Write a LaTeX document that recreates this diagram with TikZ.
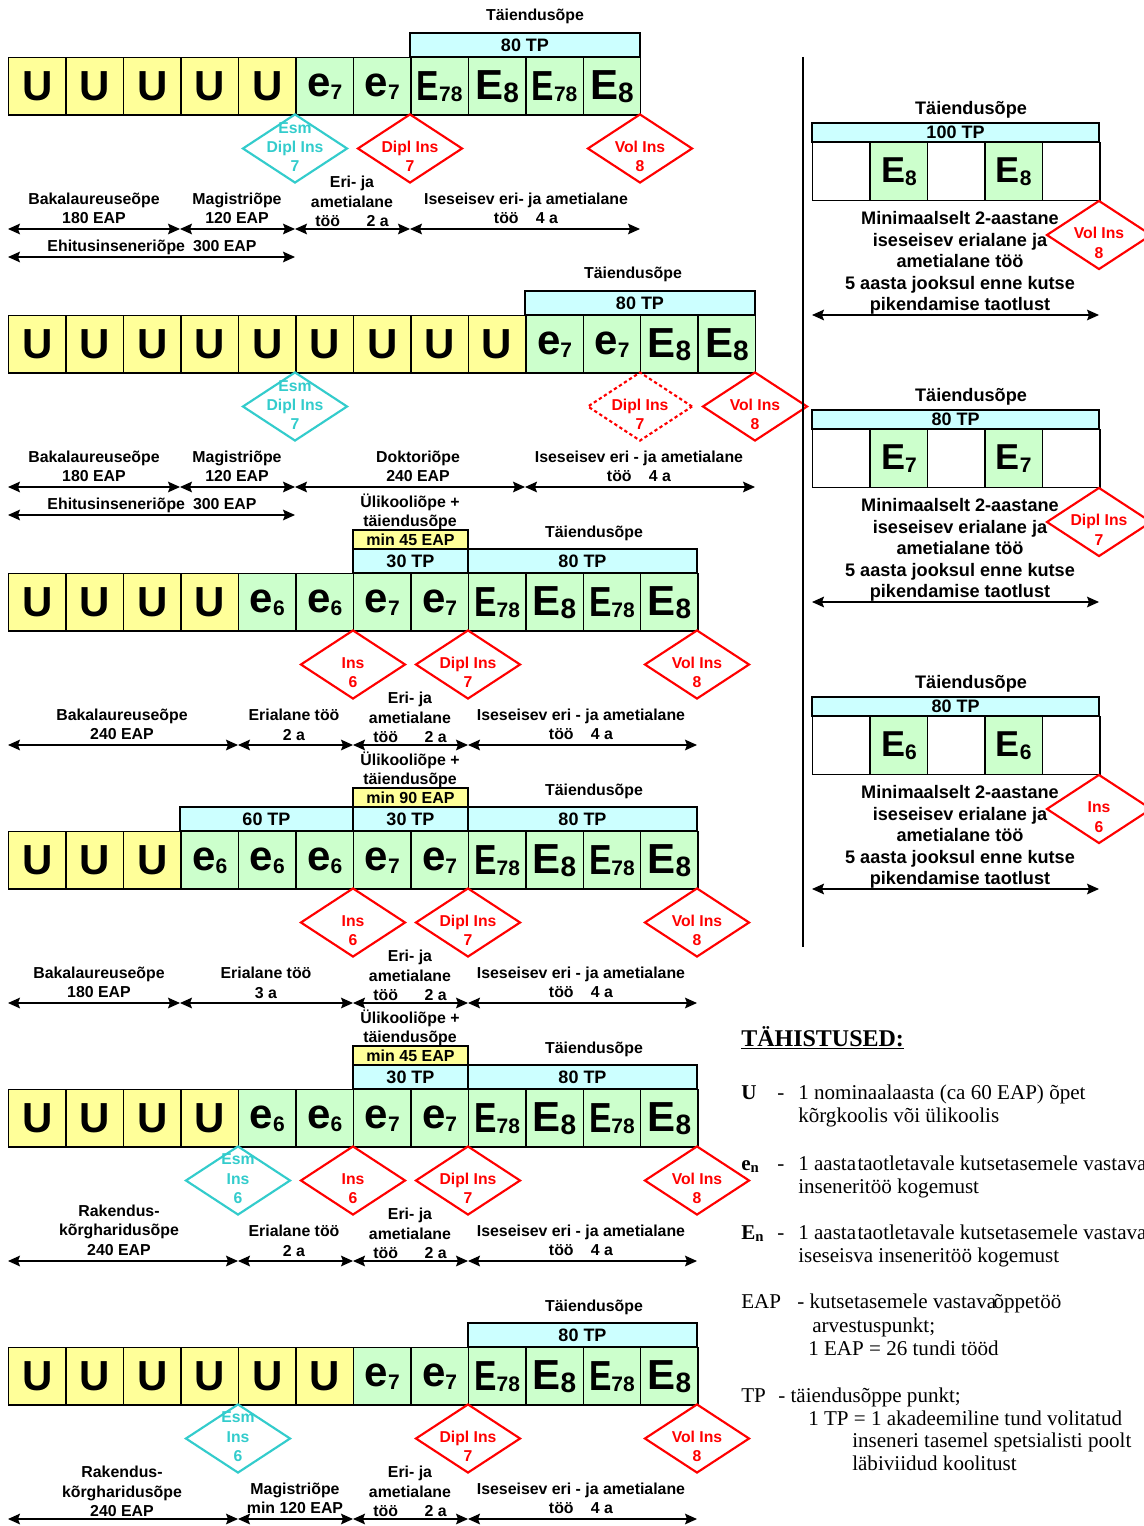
\documentclass[tikz,border=0pt]{standalone}
\usepackage{fontspec}
\usepackage{graphicx}
\setmainfont{Liberation Sans}
\newfontfamily\legfont{Liberation Serif}
\usetikzlibrary{shapes.geometric,arrows.meta}
\definecolor{cellY}{HTML}{FFFF99}
\definecolor{cellG}{HTML}{CCFFCC}
\definecolor{barC}{HTML}{CCFFFF}
\definecolor{dRed}{HTML}{FF0000}
\definecolor{dCyan}{HTML}{33CCCC}
\newcommand\bigfnt{\fontsize{31.5}{32}\selectfont\bfseries}
\newcommand\subfnt{\fontsize{15.75}{16}\selectfont\bfseries}
\newcommand\cU{{\bigfnt U}}
\newcommand\ce[1]{{\bigfnt e}\raisebox{-2pt}{\subfnt #1}}
\newcommand\cE[1]{{\bigfnt E}\raisebox{-2.5pt}{\fontsize{21}{22}\selectfont\bfseries #1}}
\newcommand\cEE[1]{\scalebox{0.8}[1]{\bigfnt E}\raisebox{-1pt}{\subfnt #1}}
\newcommand\rE[1]{{\fontsize{27}{28}\selectfont\bfseries E}\raisebox{-2pt}{\subfnt #1}}
\tikzset{
 cellbox/.style={draw=black, line width=1.1pt, anchor=north west, minimum width=43.09pt, minimum height=43.1pt, inner sep=0pt},
 tpbar/.style={draw=black, line width=1.1pt, inner sep=0pt, font=\fontsize{13.5}{14}\selectfont\bfseries},
 minbar/.style={font=\fontsize{12}{13}\selectfont\bfseries},
 dia/.style={shape=diamond, line width=1.6pt, minimum width=78.75pt, minimum height=51.75pt, inner sep=0pt},
 dtxt/.style={font=\fontsize{11.8}{14.5}\selectfont\bfseries, align=center, inner sep=0pt, anchor=south},
 lbl/.style={font=\fontsize{11.9}{14.6}\selectfont\bfseries, align=center, inner sep=0pt},
 rlbl/.style={font=\fontsize{13.6}{16.1}\selectfont\bfseries, align=center, inner sep=0pt},
 dimline/.style={line width=0.9pt, {Stealth[length=9pt,width=8pt,inset=1.5pt]}-{Stealth[length=9pt,width=8pt,inset=1.5pt]}},
 legtxt/.style={font={\legfont\fontsize{15.8}{17}\selectfont}, inner sep=0pt, anchor=base west},
}
\newcommand\cellrow[2]{\foreach \cf/\cl [count=\ci] in {#2} {\node[cellbox, fill=\cf] (#1c\ci) at ({8+(\ci-1)*57.45},57) {\cl};}}
\newcommand\barnode[8][]{\node[tpbar, #1, fill=#7, minimum width={(#4-#3)*0.75pt}, minimum height={(#6-#5)*0.75pt}] (#2) at ({(#3+#4)/2},{(#5+#6)/2}) {#8};}
\newcommand\dmd[6][]{\node[dia, draw=#5, #1] (#2) at (#3,#4) {}; \node[dtxt, text=#5] (#2t) at (#3,{#4+23.5}) {#6};}
\newcommand\dimarr[4]{\coordinate (#1a) at (#2,#4); \coordinate (#1b) at (#3,#4); \draw[dimline] (#1a) -- (#1b);}
\newcommand\rpanel[5]{%
 \node[rlbl] (#1top) at (971,{#2-13}) {Täiendusõpe};
 \node[tpbar, fill=barC, minimum width=215.25pt, minimum height=14.25pt] (#1bar) at (955.5,{#2+9.5}) {#3};
 \foreach \cf/\cl [count=\ci] in {white/{},cellG/{#4},white/{},cellG/{#4},white/{}} {\node[cellbox, fill=\cf, minimum height=43.5pt] (#1c\ci) at ({812+(\ci-1)*57.4},{#2+19}) {\cl};}
 \node[rlbl] (#1txt) at (960,{#2+140}) {Minimaalselt 2-aastane\\iseseisev erialane ja\\ametialane töö\\5 aasta jooksul enne kutse\\pikendamise taotlust};
 \dimarr{#1ar}{812}{1099}{#2+192}
 \dmd{#1d}{1099}{#2+112}{dRed}{#5}
}
\begin{document}
\begin{tikzpicture}[x=0.75pt,y=-0.75pt]
\useasboundingbox (0,0) rectangle (1143,1526);
\fill[white] (0,0) rectangle (1143,1526);
% ---------- Row 1
\begin{scope}
\node[lbl] (r1top) at (535,16.5) {Täiendusõpe};
\barnode{r1b}{410}{640}{33}{57}{barC}{80 TP}
\cellrow{r1}{cellY/\cU,cellY/\cU,cellY/\cU,cellY/\cU,cellY/\cU,cellG/\ce{7},cellG/\ce{7},cellG/\cEE{78},cellG/\cE{8},cellG/\cEE{78},cellG/\cE{8}}
\dmd{r1d1}{295}{148.5}{dCyan}{Esm\\Dipl Ins\\7}
\dmd{r1d2}{410}{148.5}{dRed}{Dipl Ins\\7}
\dmd{r1d3}{640}{148.5}{dRed}{Vol Ins\\8}
\node[lbl] (r1l1) at (94,208.5) {Bakalaureuseõpe\\180 EAP};
\node[lbl] (r1l2) at (237,208.5) {Magistriõpe\\120 EAP};
\node[lbl] (r1l3) at (352,201.5) {Eri- ja\\ametialane\\töö\hspace{20pt}2 a};
\node[lbl] (r1l4) at (526,208.5) {Iseseisev eri- ja ametialane\\töö\hspace{13pt}4 a};
\dimarr{r1a1}{8}{180}{229}
\dimarr{r1a2}{180}{295}{229}
\dimarr{r1a3}{295}{410}{229}
\dimarr{r1a4}{410}{640}{229}
\node[lbl] (r1l5) at (152,247) {Ehitusinseneriõpe\hspace{6pt}300 EAP};
\dimarr{r1a5}{8}{295}{257}
\end{scope}
% ---------- Row 2
\begin{scope}[shift={(0,258)}]
\node[lbl] (r2top) at (633,16.5) {Täiendusõpe};
\barnode{r2b}{525}{755}{33}{57}{barC}{80 TP}
\cellrow{r2}{cellY/\cU,cellY/\cU,cellY/\cU,cellY/\cU,cellY/\cU,cellY/\cU,cellY/\cU,cellY/\cU,cellY/\cU,cellG/\ce{7},cellG/\ce{7},cellG/\cE{8},cellG/\cE{8}}
\dmd{r2d1}{295}{148.5}{dCyan}{Esm\\Dipl Ins\\7}
\dmd[dash pattern=on 2.5pt off 2pt]{r2d2}{640}{148.5}{dRed}{Dipl Ins\\7}
\dmd{r2d3}{755}{148.5}{dRed}{Vol Ins\\8}
\node[lbl] (r2l1) at (94,208.5) {Bakalaureuseõpe\\180 EAP};
\node[lbl] (r2l2) at (237,208.5) {Magistriõpe\\120 EAP};
\node[lbl] (r2l3) at (418,208.5) {Doktoriõpe\\240 EAP};
\node[lbl] (r2l4) at (639,208.5) {Iseseisev eri - ja ametialane\\töö\hspace{13pt}4 a};
\dimarr{r2a1}{8}{180}{229}
\dimarr{r2a2}{180}{295}{229}
\dimarr{r2a3}{295}{525}{229}
\dimarr{r2a4}{525}{755}{229}
\node[lbl] (r2l5) at (152,247) {Ehitusinseneriõpe\hspace{6pt}300 EAP};
\dimarr{r2a5}{8}{295}{257}
\end{scope}
% ---------- Row 3
\begin{scope}[shift={(0,516)}]
\node[lbl] (r3uk) at (410,-4) {Ülikooliõpe +\\täiendusõpe};
\barnode[minbar]{r3y}{353}{468}{14}{33}{cellY}{min 45 EAP}
\node[lbl] (r3top) at (594,17) {Täiendusõpe};
\barnode{r3b1}{353}{468}{33}{57}{barC}{30 TP}
\barnode{r3b2}{468}{697}{33}{57}{barC}{80 TP}
\cellrow{r3}{cellY/\cU,cellY/\cU,cellY/\cU,cellY/\cU,cellG/\ce{6},cellG/\ce{6},cellG/\ce{7},cellG/\ce{7},cellG/\cEE{78},cellG/\cE{8},cellG/\cEE{78},cellG/\cE{8}}
\dmd{r3d1}{353}{148.5}{dRed}{Ins\\6}
\dmd{r3d2}{468}{148.5}{dRed}{Dipl Ins\\7}
\dmd{r3d3}{697}{148.5}{dRed}{Vol Ins\\8}
\node[lbl] (r3l1) at (122,208.5) {Bakalaureuseõpe\\240 EAP};
\node[lbl] (r3l2) at (294,209) {Erialane töö\\2 a};
\node[lbl] (r3l3) at (410,201.5) {Eri- ja\\ametialane\\töö\hspace{20pt}2 a};
\node[lbl] (r3l4) at (581,208.5) {Iseseisev eri - ja ametialane\\töö\hspace{13pt}4 a};
\dimarr{r3a1}{8}{238}{229}
\dimarr{r3a2}{238}{353}{229}
\dimarr{r3a3}{353}{468}{229}
\dimarr{r3a4}{468}{697}{229}
\end{scope}
% ---------- Row 4
\begin{scope}[shift={(0,774)}]
\node[lbl] (r4uk) at (410,-4) {Ülikooliõpe +\\täiendusõpe};
\barnode[minbar]{r4y}{353}{468}{14}{33}{cellY}{min 90 EAP}
\node[lbl] (r4top) at (594,17) {Täiendusõpe};
\barnode{r4b0}{180}{353}{33}{57}{barC}{60 TP}
\barnode{r4b1}{353}{468}{33}{57}{barC}{30 TP}
\barnode{r4b2}{468}{697}{33}{57}{barC}{80 TP}
\cellrow{r4}{cellY/\cU,cellY/\cU,cellY/\cU,cellG/\ce{6},cellG/\ce{6},cellG/\ce{6},cellG/\ce{7},cellG/\ce{7},cellG/\cEE{78},cellG/\cE{8},cellG/\cEE{78},cellG/\cE{8}}
\dmd{r4d1}{353}{148.5}{dRed}{Ins\\6}
\dmd{r4d2}{468}{148.5}{dRed}{Dipl Ins\\7}
\dmd{r4d3}{697}{148.5}{dRed}{Vol Ins\\8}
\node[lbl] (r4l1) at (99,208.5) {Bakalaureuseõpe\\180 EAP};
\node[lbl] (r4l2) at (266,209) {Erialane töö\\3 a};
\node[lbl] (r4l3) at (410,201.5) {Eri- ja\\ametialane\\töö\hspace{20pt}2 a};
\node[lbl] (r4l4) at (581,208.5) {Iseseisev eri - ja ametialane\\töö\hspace{13pt}4 a};
\dimarr{r4a1}{8}{180}{229}
\dimarr{r4a2}{180}{353}{229}
\dimarr{r4a3}{353}{468}{229}
\dimarr{r4a4}{468}{697}{229}
\end{scope}
% ---------- Row 5
\begin{scope}[shift={(0,1032)}]
\node[lbl] (r5uk) at (410,-4) {Ülikooliõpe +\\täiendusõpe};
\barnode[minbar]{r5y}{353}{468}{14}{33}{cellY}{min 45 EAP}
\node[lbl] (r5top) at (594,17) {Täiendusõpe};
\barnode{r5b1}{353}{468}{33}{57}{barC}{30 TP}
\barnode{r5b2}{468}{697}{33}{57}{barC}{80 TP}
\cellrow{r5}{cellY/\cU,cellY/\cU,cellY/\cU,cellY/\cU,cellG/\ce{6},cellG/\ce{6},cellG/\ce{7},cellG/\ce{7},cellG/\cEE{78},cellG/\cE{8},cellG/\cEE{78},cellG/\cE{8}}
\dmd{r5d0}{238}{148.5}{dCyan}{Esm\\Ins\\6}
\dmd{r5d1}{353}{148.5}{dRed}{Ins\\6}
\dmd{r5d2}{468}{148.5}{dRed}{Dipl Ins\\7}
\dmd{r5d3}{697}{148.5}{dRed}{Vol Ins\\8}
\node[lbl] (r5l1) at (119,198) {Rakendus-\\kõrgharidusõpe\\240 EAP};
\node[lbl] (r5l2) at (294,209) {Erialane töö\\2 a};
\node[lbl] (r5l3) at (410,201.5) {Eri- ja\\ametialane\\töö\hspace{20pt}2 a};
\node[lbl] (r5l4) at (581,208.5) {Iseseisev eri - ja ametialane\\töö\hspace{13pt}4 a};
\dimarr{r5a1}{8}{238}{229}
\dimarr{r5a2}{238}{353}{229}
\dimarr{r5a3}{353}{468}{229}
\dimarr{r5a4}{468}{697}{229}
\end{scope}
% ---------- Row 6
\begin{scope}[shift={(0,1290)}]
\node[lbl] (r6top) at (594,17) {Täiendusõpe};
\barnode{r6b2}{468}{697}{33}{57}{barC}{80 TP}
\cellrow{r6}{cellY/\cU,cellY/\cU,cellY/\cU,cellY/\cU,cellY/\cU,cellY/\cU,cellG/\ce{7},cellG/\ce{7},cellG/\cEE{78},cellG/\cE{8},cellG/\cEE{78},cellG/\cE{8}}
\dmd{r6d0}{238}{148.5}{dCyan}{Esm\\Ins\\6}
\dmd{r6d2}{468}{148.5}{dRed}{Dipl Ins\\7}
\dmd{r6d3}{697}{148.5}{dRed}{Vol Ins\\8}
\node[lbl] (r6l1) at (122,201.5) {Rakendus-\\kõrgharidusõpe\\240 EAP};
\node[lbl] (r6l2) at (295,208.5) {Magistriõpe\\min 120 EAP};
\node[lbl] (r6l3) at (410,201.5) {Eri- ja\\ametialane\\töö\hspace{20pt}2 a};
\node[lbl] (r6l4) at (581,208.5) {Iseseisev eri - ja ametialane\\töö\hspace{13pt}4 a};
\dimarr{r6a1}{8}{238}{229}
\dimarr{r6a2}{238}{353}{229}
\dimarr{r6a3}{353}{468}{229}
\dimarr{r6a4}{468}{697}{229}
\end{scope}
% ---------- Right panel
\coordinate (vtop) at (803,57);
\coordinate (vbot) at (803,947);
\draw[line width=1pt] (vtop) -- (vbot);
\rpanel{p1}{123}{100 TP}{\rE{8}}{Vol Ins\\8}
\rpanel{p2}{410}{80 TP}{\rE{7}}{Dipl Ins\\7}
\rpanel{p3}{697}{80 TP}{\rE{6}}{Ins\\6}
% ---------- Legend
\node[legtxt, font={\legfont\fontsize{18}{20}\selectfont\bfseries}] (lgT) at (741,1046) {\underline{TÄHISTUSED:}};
\node[legtxt] (lgU) at (741,1099) {\textbf{U}};
\node[legtxt] (lgUd) at (777,1099) {-};
\node[legtxt] (lgU1) at (798,1099) {1 nominaalaasta (ca 60 EAP) õpet};
\node[legtxt] (lgU2) at (798,1122) {kõrgkoolis või ülikoolis};
\node[legtxt] (lge) at (741,1170) {\textbf{e\textsubscript{n}}};
\node[legtxt] (lged) at (777,1170) {-};
\node[legtxt] (lge1) at (798,1170) {1 aasta\hspace{1pt}taotletavale kutsetasemele vastava};
\node[legtxt] (lge2) at (798,1193) {inseneritöö kogemust};
\node[legtxt] (lgE) at (741,1239) {\textbf{E\textsubscript{n}}};
\node[legtxt] (lgEd) at (777,1239) {-};
\node[legtxt] (lgE1) at (798,1239) {1 aasta\hspace{1pt}taotletavale kutsetasemele vastava};
\node[legtxt] (lgE2) at (798,1262) {iseseisva inseneritöö kogemust};
\node[legtxt] (lgA) at (741,1308) {EAP};
\node[legtxt] (lgA1) at (797,1308) {- kutsetasemele vastava\hspace{-2pt}õppetöö};
\node[legtxt] (lgA2) at (812,1332) {arvestuspunkt;};
\node[legtxt] (lgA3) at (808,1355) {1 EAP = 26 tundi tööd};
\node[legtxt] (lgT0) at (741,1402) {TP};
\node[legtxt] (lgT1) at (778,1402) {- täiendusõppe punkt;};
\node[legtxt] (lgT2) at (808,1425) {1 TP = 1 akadeemiline tund volitatud};
\node[legtxt] (lgT3) at (852,1447) {inseneri tasemel spetsialisti poolt};
\node[legtxt] (lgT4) at (852,1470) {läbiviidud koolitust};
\end{tikzpicture}
\end{document}
